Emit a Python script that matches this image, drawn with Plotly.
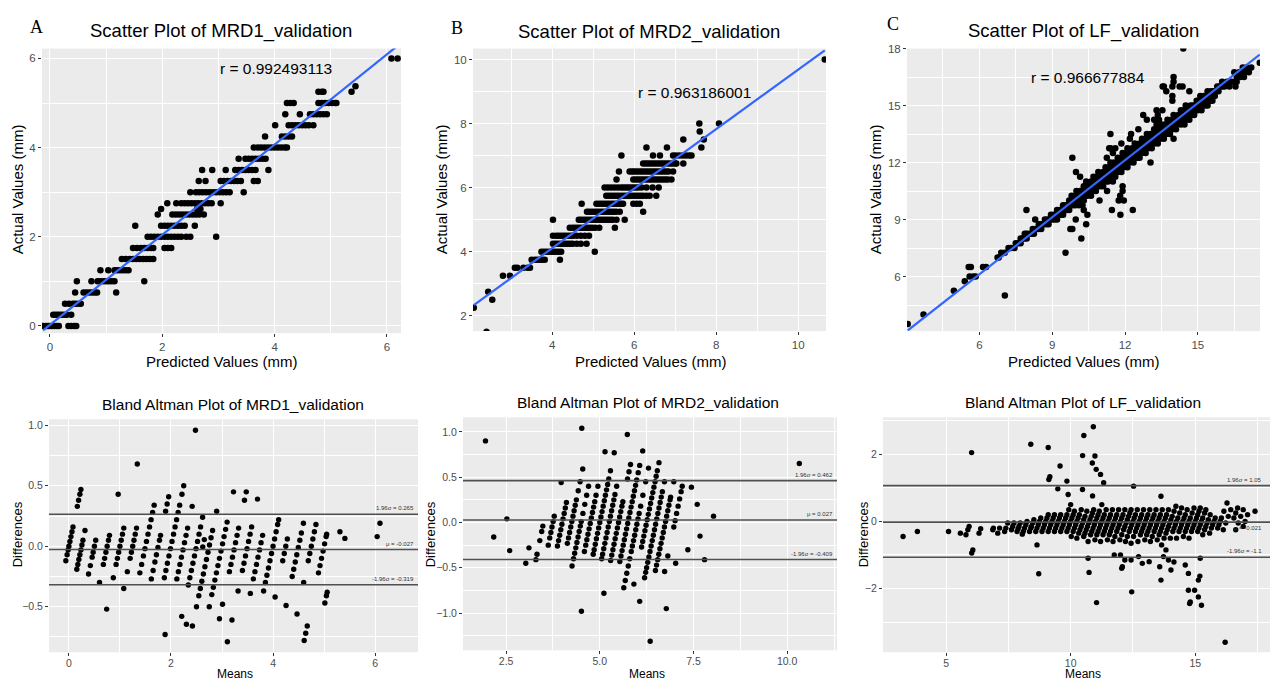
import plotly.graph_objects as go
import numpy as np

# ---------------- DATA ----------------
# Panel A (MRD1): actual values (rows) and predicted values observed in each row
A_actual = [0.0, 0.25, 0.5, 0.75, 1.0, 1.25, 1.5, 1.75, 2.0, 2.25, 2.5, 2.625, 2.75, 3.0, 3.25,
            3.5, 3.75, 4.0, 4.25, 4.5, 4.75, 5.0, 5.25, 5.375, 6.0]
A_pred = [
    [-0.12, -0.07, -0.03, 0.0, 0.04, 0.08, 0.12, 0.16, 0.33, 0.38, 0.43, 0.47],
    [0.06, 0.1, 0.14, 0.18, 0.22, 0.26, 0.3, 0.38],
    [0.27, 0.34, 0.41, 0.45, 0.5, 0.55],
    [0.45, 0.6, 0.65, 0.7, 0.75, 0.8, 0.84, 1.18],
    [0.48, 0.74, 0.85, 0.9, 0.95, 1.0, 1.05, 1.1, 1.15, 1.68],
    [0.9, 1.04, 1.15, 1.2, 1.25, 1.3, 1.35, 1.4],
    [1.28, 1.35, 1.42, 1.48, 1.54, 1.6, 1.66, 1.72, 1.78, 1.84],
    [1.48, 1.55, 1.62, 1.68, 1.74, 1.8, 1.84, 2.04, 2.1, 2.16],
    [1.74, 1.8, 1.86, 1.92, 1.98, 2.04, 2.1, 2.16, 2.22, 2.28, 2.34, 2.43, 2.5, 2.96],
    [1.52, 1.98, 2.04, 2.1, 2.16, 2.22, 2.28, 2.34, 2.4, 2.58],
    [1.92, 2.18, 2.24, 2.3, 2.36, 2.42, 2.48, 2.54, 2.6, 2.66, 2.74],
    [1.98, 2.62, 2.68],
    [2.09, 2.25, 2.34, 2.4, 2.46, 2.52, 2.58, 2.64, 2.7, 2.76, 2.82, 2.88, 3.04],
    [2.5, 2.6, 2.66, 2.72, 2.78, 2.84, 2.9, 2.96, 3.02, 3.08, 3.14, 3.2, 3.45],
    [2.65, 2.77, 3.04, 3.1, 3.16, 3.22, 3.28, 3.34, 3.4, 3.63, 3.7],
    [2.71, 2.89, 3.13, 3.3, 3.36, 3.42, 3.48, 3.54, 3.6, 3.66, 3.89],
    [3.36, 3.48, 3.54, 3.6, 3.66, 3.72, 3.78, 3.84],
    [3.63, 3.7, 3.76, 3.82, 3.88, 3.94, 4.0, 4.06, 4.12, 4.18, 4.22],
    [3.83, 4.13, 4.19, 4.25, 4.31],
    [4.01, 4.25, 4.31, 4.37, 4.43, 4.49, 4.55, 4.61, 4.69],
    [4.19, 4.45, 4.63, 4.69, 4.75, 4.81, 4.87, 4.93],
    [4.22, 4.28, 4.34, 4.78, 4.84, 4.9, 4.96, 5.02, 5.08, 5.1],
    [4.78, 4.84, 4.87, 5.37],
    [5.44],
    [6.08, 6.19],
]

# Panel B (MRD2)
B_actual = [1.5, 2.25, 2.5, 2.75, 3.25, 3.5, 3.75, 4.0, 4.25, 4.5, 4.75, 5.0, 5.25, 5.5, 5.75,
            6.0, 6.25, 6.5, 6.75, 7.0, 7.25, 7.5, 7.75, 8.0, 10.0]
B_pred = [
    [2.4],
    [2.09],
    [2.54],
    [2.44],
    [2.8, 2.97],
    [3.09, 3.15, 3.3, 3.4, 3.46],
    [3.5, 3.58, 3.64, 3.7, 3.76, 3.82, 4.19],
    [3.74, 3.8, 3.86, 3.92, 3.98, 4.04, 4.1, 4.16, 4.22, 5.04],
    [4.02, 4.08, 4.14, 4.2, 4.26, 4.32, 4.38, 4.44, 4.5, 4.6, 4.7, 4.84],
    [4.02, 4.1, 4.16, 4.22, 4.28, 4.34, 4.4, 4.46, 4.51, 4.6, 4.7, 4.8, 4.9],
    [4.43, 4.5, 4.56, 4.62, 4.68, 4.74, 4.8, 4.86, 4.92, 4.98, 5.05, 5.15, 5.53],
    [4.02, 4.65, 4.7, 4.76, 4.82, 4.88, 4.94, 5.0, 5.06, 5.12, 5.18, 5.24, 5.3, 5.36, 5.42,
     5.48, 5.57, 5.77],
    [4.85, 4.9, 4.96, 5.02, 5.08, 5.14, 5.2, 5.26, 5.32, 5.38, 5.44, 5.5, 5.56, 5.65, 6.22],
    [4.72, 5.08, 5.14, 5.2, 5.26, 5.32, 5.38, 5.44, 5.5, 5.56, 5.62, 5.68, 5.73, 5.98, 6.06, 6.14],
    [5.32, 5.38, 5.44, 5.5, 5.56, 5.62, 5.68, 5.74, 5.8, 5.86, 5.92, 5.98, 6.04, 6.1, 6.16,
     6.22, 6.3, 6.38, 6.54],
    [5.28, 5.36, 5.44, 5.52, 5.6, 5.68, 5.74, 5.8, 5.86, 5.92, 5.98, 6.04, 6.1, 6.18, 6.3,
     6.45, 6.6],
    [5.57, 5.98, 6.04, 6.1, 6.16, 6.22, 6.28, 6.34, 6.4, 6.46, 6.52, 6.58, 6.64, 6.7, 6.76,
     6.82, 6.91],
    [5.63, 5.89, 5.95, 6.0, 6.06, 6.12, 6.18, 6.24, 6.3, 6.36, 6.42, 6.48, 6.54, 6.6, 6.66,
     6.72, 6.78, 6.84, 6.95],
    [6.22, 6.28, 6.34, 6.4, 6.46, 6.52, 6.58, 6.64, 6.7, 6.76, 6.82, 6.88, 6.94, 7.0, 7.03, 7.2],
    [5.69, 6.46, 6.63, 6.95, 7.02, 7.1, 7.18, 7.26, 7.34, 7.4],
    [6.3, 6.8, 7.64],
    [7.2, 7.7],
    [7.6],
    [7.59, 8.07],
    [10.65],
]

# Panel C (LF)
C_actual = [3.5, 4.0, 5.0, 5.25, 5.75, 6.0, 6.5, 7.0, 7.25, 7.5, 7.75, 8.0, 8.25, 8.5, 8.75,
            9.0, 9.25, 9.5, 9.75, 10.0, 10.25, 10.5, 10.75, 11.0, 11.25, 11.5, 11.75, 12.0,
            12.25, 12.5, 12.75, 13.0, 13.25, 13.5, 13.75, 14.0, 14.25, 14.5, 14.75, 15.0,
            15.25, 15.5, 15.75, 16.0, 16.25, 16.5, 16.75, 17.0, 17.25, 18.0]
C_pred = [
    [3.05],
    [3.7],
    [7.05],
    [4.95],
    [5.4],
    [5.6, 5.75, 5.85],
    [5.56, 5.65, 6.15, 6.28],
    [6.75, 6.8],
    [6.9, 7.05, 9.55],
    [7.2, 7.3, 7.45],
    [7.5, 7.6, 7.7],
    [7.7, 7.78, 7.85, 7.95, 10.2],
    [7.87, 7.95, 8.05, 8.15, 8.25],
    [8.2, 8.3, 8.35, 8.45, 8.55, 9.75, 9.83],
    [8.45, 8.55, 8.65, 8.75, 8.85, 10.4],
    [8.3, 8.7, 8.8, 8.9, 9.0, 9.1, 9.2, 9.97],
    [8.95, 9.05, 9.15, 9.25, 9.35, 9.45, 10.45, 11.81],
    [7.94, 9.2, 9.3, 9.4, 9.5, 9.6, 9.7, 10.3, 11.46, 12.32],
    [9.45, 9.55, 9.65, 9.75, 9.85, 9.95, 10.1, 10.25],
    [9.7, 9.8, 9.9, 10.0, 10.1, 10.2, 10.3, 10.95, 11.74, 11.95],
    [9.8, 9.95, 10.05, 10.15, 10.25, 10.35, 10.45, 10.6, 11.8],
    [10.0, 10.15, 10.25, 10.35, 10.45, 10.55, 10.65, 10.8, 11.26, 11.9],
    [10.3, 10.4, 10.5, 10.6, 10.7, 10.8, 10.9, 11.0, 11.1, 11.9],
    [10.4, 10.6, 10.7, 10.8, 10.9, 11.0, 11.1, 11.2, 11.3, 11.5],
    [10.15, 10.7, 10.85, 10.95, 11.05, 11.15, 11.25, 11.35, 11.45, 11.6],
    [9.98, 10.9, 11.1, 11.2, 11.3, 11.4, 11.5, 11.6, 11.7, 11.85],
    [11.2, 11.35, 11.45, 11.55, 11.65, 11.75, 11.85, 11.95, 12.1],
    [11.4, 11.55, 11.7, 11.8, 11.9, 12.0, 12.1, 12.2, 12.35, 13.05],
    [9.83, 11.25, 11.7, 11.85, 12.0, 12.1, 12.2, 12.3, 12.4, 12.5, 12.6],
    [11.5, 11.9, 12.05, 12.2, 12.3, 12.4, 12.5, 12.6, 12.7, 12.85],
    [11.4, 11.35, 11.6, 12.1, 12.3, 12.45, 12.55, 12.65, 12.75, 12.85, 12.95, 13.1],
    [11.85, 12.4, 12.6, 12.7, 12.8, 12.9, 13.0, 13.1, 13.2, 13.35],
    [12.2, 12.7, 12.85, 12.95, 13.05, 13.15, 13.25, 13.35, 13.45, 13.6, 14.0],
    [11.4, 12.25, 12.9, 13.05, 13.2, 13.3, 13.4, 13.5, 13.6, 13.7, 13.85],
    [12.55, 13.2, 13.35, 13.45, 13.55, 13.65, 13.75, 13.85, 13.95, 14.1],
    [13.3, 13.5, 13.65, 13.75, 13.85, 13.95, 14.05, 14.15, 14.3, 14.45],
    [12.9, 13.2, 13.4, 13.75, 13.95, 14.05, 14.15, 14.25, 14.35, 14.5, 14.65],
    [12.75, 13.35, 14.0, 14.2, 14.3, 14.4, 14.5, 14.6, 14.7, 14.85],
    [13.3, 13.54, 14.3, 14.45, 14.55, 14.65, 14.75, 14.85, 15.0, 15.15],
    [14.5, 14.7, 14.8, 14.9, 15.0, 15.1, 15.2, 15.3, 15.4],
    [13.95, 14.95, 15.05, 15.15, 15.25, 15.35, 15.5, 15.6],
    [13.95, 15.1, 15.25, 15.35, 15.45, 15.55, 15.7],
    [13.7, 14.65, 15.4, 15.55, 15.65, 15.75, 15.85],
    [13.55, 13.6, 13.95, 14.25, 14.37, 15.8, 15.9, 16.0, 16.1, 16.3, 16.55],
    [14.0, 16.0, 16.2, 16.4, 16.6],
    [14.0, 16.6, 16.75, 16.9],
    [16.5, 16.7, 16.9, 17.1],
    [16.85, 17.0, 17.2],
    [17.55],
    [14.4],
]

r_labels = ["r = 0.992493113", "r = 0.963186001", "r = 0.966677884"]
names = ["MRD1_validation", "MRD2_validation", "LF_validation"]
letters = ["A", "B", "C"]
# Bland-Altman reference lines (upper 1.96 sd, mean, lower 1.96 sd) as printed on the chart
ba_lines = [[0.265, -0.027, -0.319], [0.462, 0.027, -0.409], [1.065, -0.021, -1.07]]
ba_labels = [["1.96σ = 0.265", "μ = -0.027", "-1.96σ = -0.319"],
             ["1.96σ = 0.462", "μ = 0.027", "-1.96σ = -0.409"],
             ["1.96σ = 1.05", "μ = -0.021", "-1.96σ = -1.1"]]

# ---------------- BUILD ----------------
def flatten(actual, pred_rows):
    xs, ys = [], []
    for a, row in zip(actual, pred_rows):
        for p in row:
            xs.append(p)
            ys.append(a)
    return np.array(xs), np.array(ys)

panels = [flatten(A_actual, A_pred), flatten(B_actual, B_pred), flatten(C_actual, C_pred)]

W, H = 1270, 682
def px(x): return x / W
def py(y): return 1 - y / H

FONT = "Arial, Liberation Sans, sans-serif"
fig = go.Figure()

top_dom_x = [[42, 401], [473, 826], [907, 1260]]
top_dom_y = [[43, 330], [43, 328], [43, 328]]
top_xr = [[-0.14, 6.25], [2.07, 10.68], [3.02, 17.56]]
top_yr = [[-0.16, 6.22], [1.52, 10.34], [3.13, 18.0]]
top_dt = [(2, 1), (2, 1), (3, 1.5)]
top_dty = [(2, 1), (2, 1), (3, 1.5)]

bot_dom_x = [[49, 418], [463, 837], [883, 1270]]
bot_dom_y = [[417, 652], [415, 650], [415, 652]]
bot_xr = [[-0.39, 6.84], [1.35, 11.33], [2.47, 18.0]]
bot_yr = [[-0.877, 1.05], [-1.41, 1.16], [-3.9, 3.1]]
bot_dtx = [(2, 1, None), (2.5, 1.25, ".1f"), (5, 2.5, None)]
bot_dty = [(0.5, 0.25, ".1f"), (0.5, 0.25, ".1f"), (2, 1, None)]

def make_axis(dom, rng, dtick, minor, anchor, fmt=None, fs=11, standoff=0):
    d = dict(domain=dom, range=rng, dtick=dtick, tick0=0, showgrid=True, gridcolor="white",
             gridwidth=1.1, minor=dict(dtick=minor, showgrid=True, gridcolor="white",
                                       gridwidth=0.5),
             ticks="outside", ticklen=3, tickwidth=1, tickcolor="#333333",
             tickfont=dict(size=fs, color="#4d4d4d", family=FONT),
             zeroline=False, showline=False, anchor=anchor, fixedrange=True)
    if standoff:
        d["ticklabelstandoff"] = standoff
    if fmt:
        d["tickformat"] = fmt
    return d

layout_axes = {}
annotations = []
shapes = []

for i in range(3):
    xp, ya = panels[i]
    n = i + 1
    xa = "x" if n == 1 else f"x{n}"
    yaname = "y" if n == 1 else f"y{n}"
    # scatter
    fig.add_trace(go.Scatter(x=xp, y=ya, mode="markers", xaxis=xa, yaxis=yaname,
                             marker=dict(color="black", size=6.5), showlegend=False))
    k, b = np.polyfit(xp, ya, 1)
    lx = np.array([xp.min(), xp.max()])
    fig.add_trace(go.Scatter(x=lx, y=k * lx + b, mode="lines", xaxis=xa, yaxis=yaname,
                             line=dict(color="#3366FF", width=2.2), showlegend=False))
    dx = [px(top_dom_x[i][0]), px(top_dom_x[i][1])]
    dy = [py(top_dom_y[i][1]), py(top_dom_y[i][0])]
    layout_axes["xaxis" if n == 1 else f"xaxis{n}"] = make_axis(dx, top_xr[i], top_dt[i][0], top_dt[i][1], yaname, fs=11.5)
    layout_axes["yaxis" if n == 1 else f"yaxis{n}"] = make_axis(dy, top_yr[i], top_dty[i][0], top_dty[i][1], xa, fs=11.5)

    # Bland-Altman
    m = 4 + i
    xb = f"x{m}"
    yb = f"y{m}"
    means = (xp + ya) / 2
    diffs = xp - ya
    fig.add_trace(go.Scatter(x=means, y=diffs, mode="markers", xaxis=xb, yaxis=yb,
                             marker=dict(color="black", size=5.4), showlegend=False))
    dx2 = [px(bot_dom_x[i][0]), min(1.0, px(bot_dom_x[i][1]))]
    dy2 = [py(bot_dom_y[i][1]), py(bot_dom_y[i][0])]
    layout_axes[f"xaxis{m}"] = make_axis(dx2, bot_xr[i], bot_dtx[i][0], bot_dtx[i][1], yb, bot_dtx[i][2], fs=10.5, standoff=-2)
    layout_axes[f"yaxis{m}"] = make_axis(dy2, bot_yr[i], bot_dty[i][0], bot_dty[i][1], xb, bot_dty[i][2], fs=10.5)
    for j, (v, lab) in enumerate(zip(ba_lines[i], ba_labels[i])):
        shapes.append(dict(type="line", xref=f"{xb} domain", yref=yb, x0=0, x1=1, y0=v, y1=v,
                           line=dict(color="#505050", width=1.6)))
        below = (i == 2 and j == 1)
        annotations.append(dict(text=lab, xref=f"{xb} domain", yref=yb,
                                x=0.985 if i == 2 else 0.995, y=v,
                                xanchor="right", yanchor="top" if below else "bottom",
                                yshift=-1 if below else 1, showarrow=False,
                                font=dict(size=6, color="#333333", family=FONT)))

# text annotations (titles, labels)
letter_pos = [(36, 21), (457, 22), (893, 18)]
title_pos = [(221, 25), (649, 26), (1083, 25)]
r_pos = [(276, 63), (694, 87), (1088, 72)]
pred_x = [221, 650, 1083]
act_x = [17, 441, 875]
ba_title_pos = [(233, 402), (648, 400), (1083, 400)]
diff_x = [17, 430, 863]
means_x = [235, 647, 1083]

def ann(text, x, y, size, family=FONT, angle=0):
    return dict(text=text, x=px(x), y=py(y), xref="paper", yref="paper", showarrow=False,
                xanchor="center", yanchor="middle", textangle=angle,
                font=dict(size=size, color="black", family=family))

for i in range(3):
    annotations.append(ann(letters[i], letter_pos[i][0], letter_pos[i][1], 18,
                           family="Liberation Serif, Times New Roman, serif"))
    annotations.append(ann("Scatter Plot of " + names[i], title_pos[i][0], title_pos[i][1], 18.5))
    annotations.append(ann(r_labels[i], r_pos[i][0], r_pos[i][1], 15.5))
    annotations.append(ann("Predicted Values (mm)", pred_x[i], 359, 15))
    annotations.append(ann("Actual Values (mm)", act_x[i], 185, 15, angle=-90))
    annotations.append(ann("Bland Altman Plot of " + names[i], ba_title_pos[i][0], ba_title_pos[i][1], 15.5))
    annotations.append(ann("Differences", diff_x[i], 533, 13, angle=-90))
    annotations.append(ann("Means", means_x[i], 674, 12))

fig.update_layout(width=W, height=H, margin=dict(l=0, r=0, t=0, b=0),
                  paper_bgcolor="white", plot_bgcolor="#EBEBEB",
                  annotations=annotations, shapes=shapes, showlegend=False,
                  font=dict(family=FONT), **layout_axes)

# pin the figure to the page's top-left corner (no default body margin)
post = ("document.body.style.margin='0';"
        "var d=document.getElementById('{plot_id}');"
        "d.style.position='absolute';d.style.left='0px';d.style.top='0px';")
fig.write_html("out.html", config={"displayModeBar": False}, post_script=post)
